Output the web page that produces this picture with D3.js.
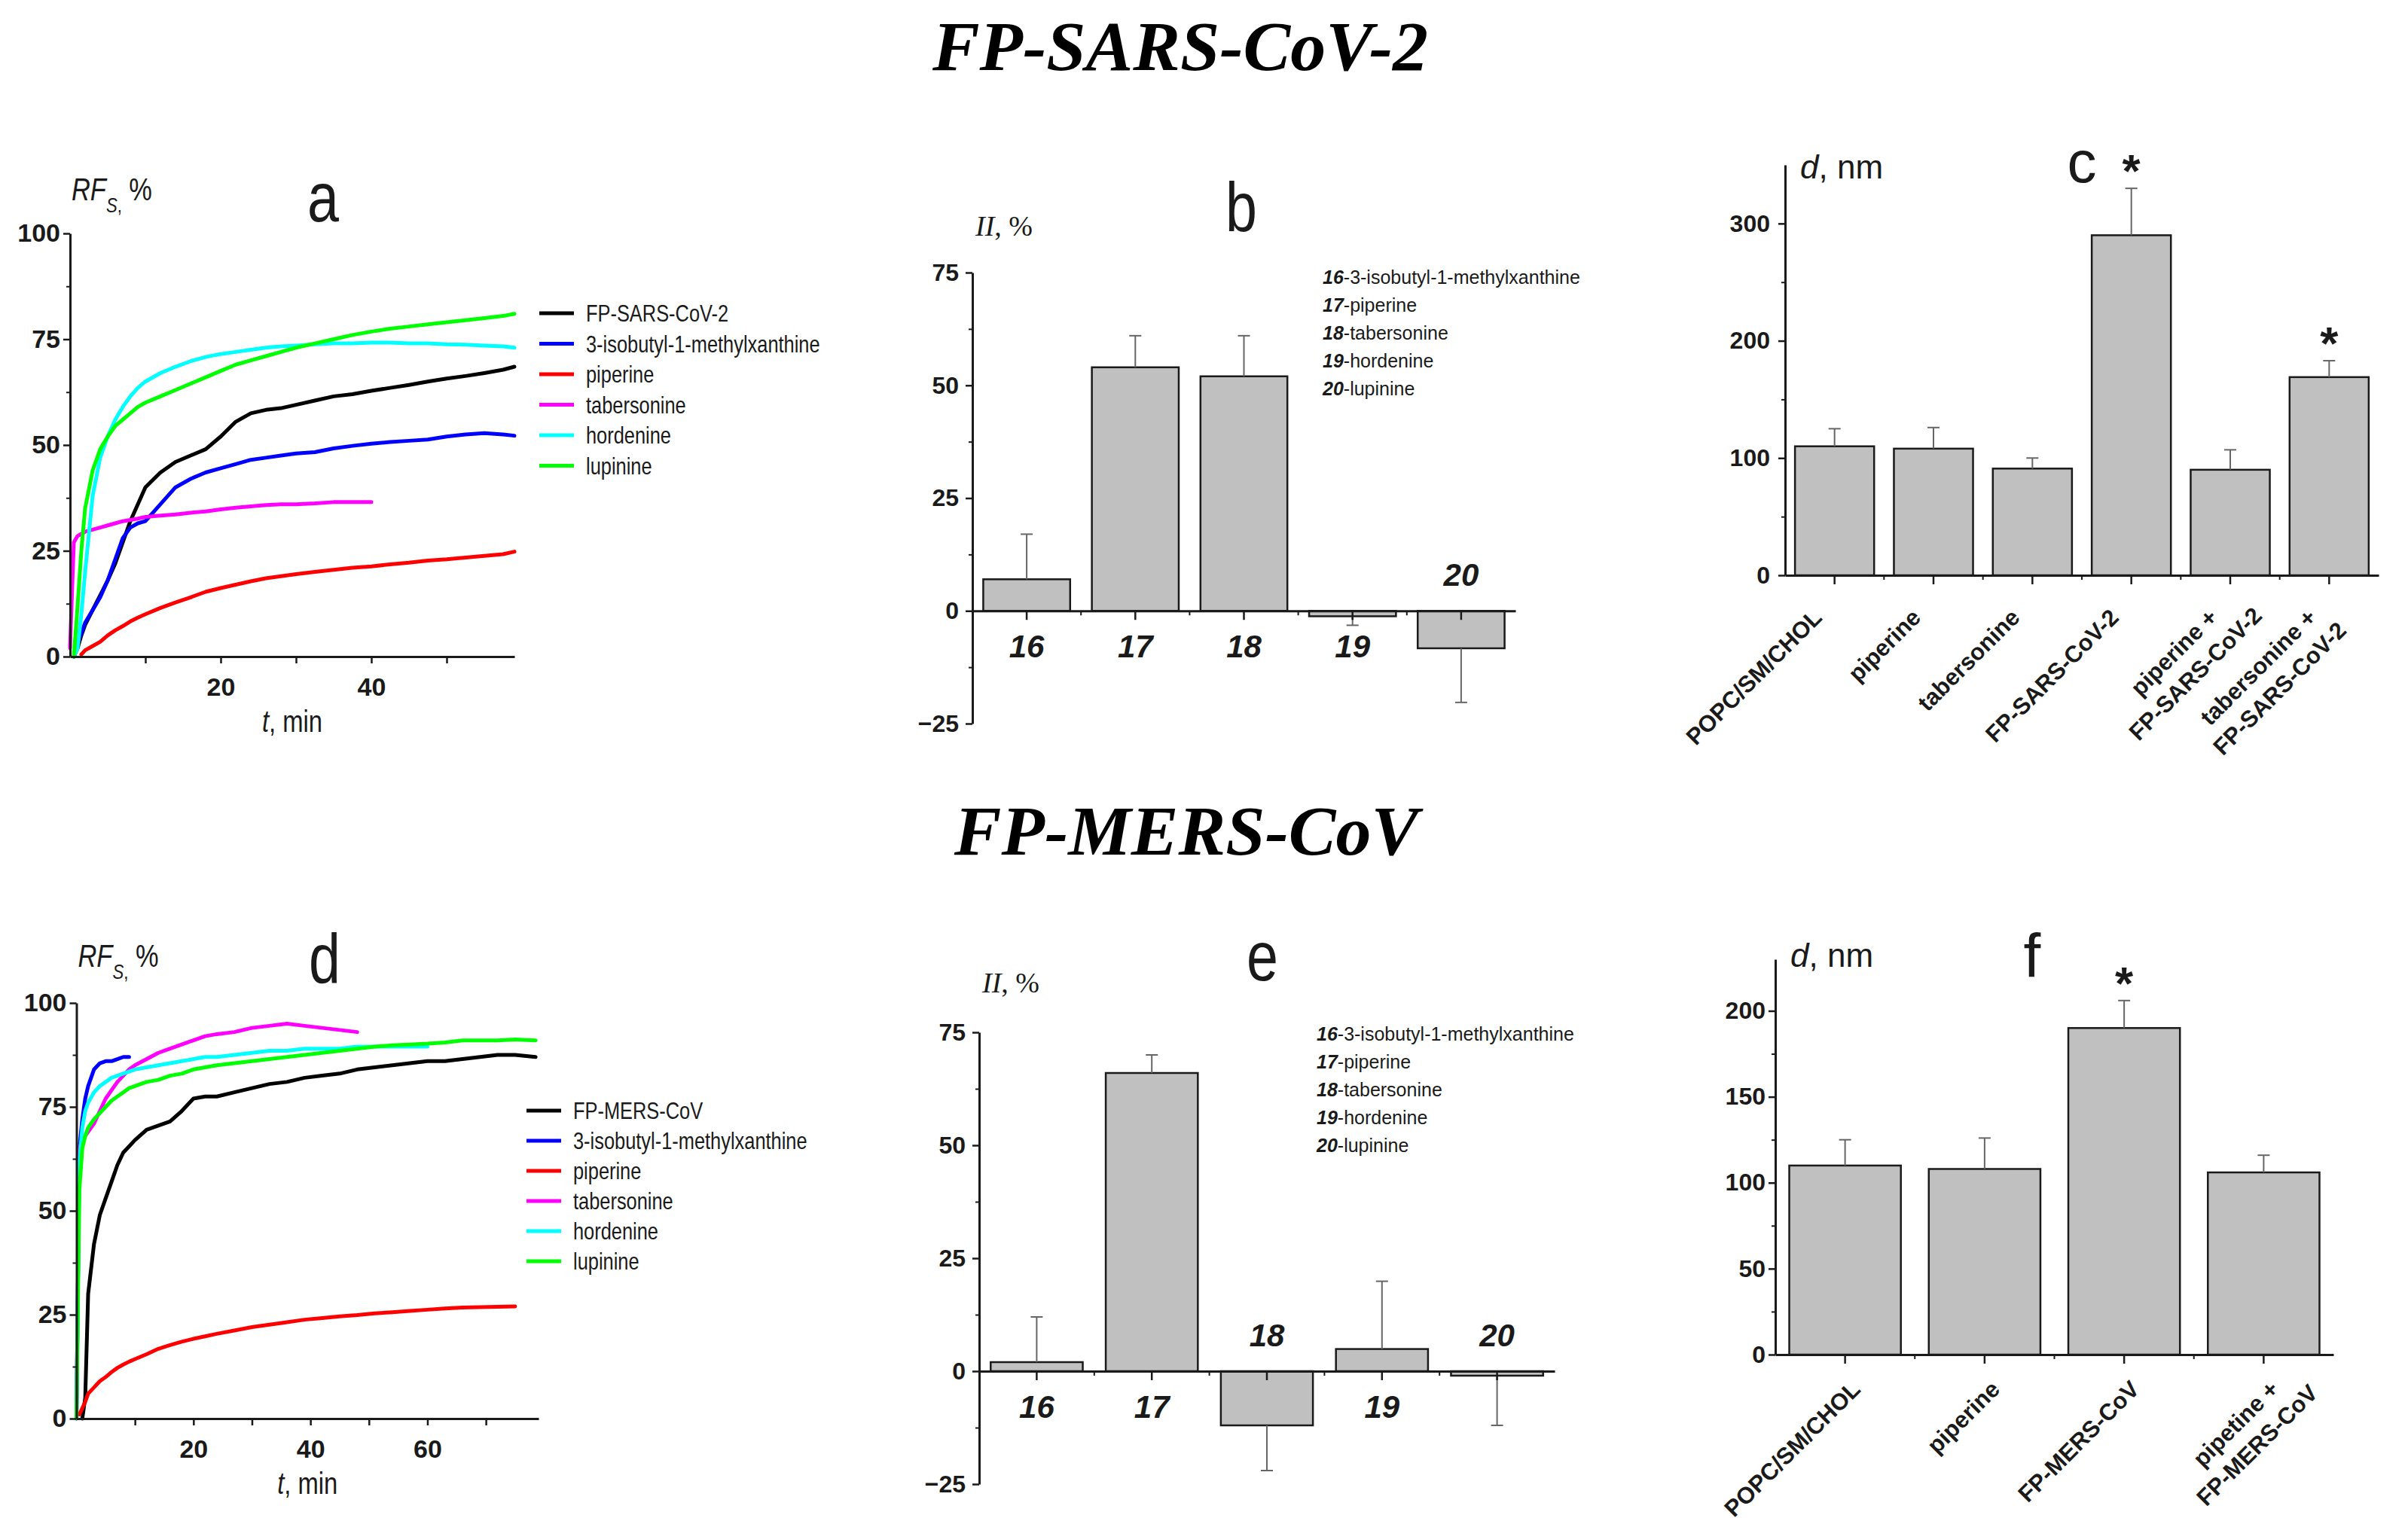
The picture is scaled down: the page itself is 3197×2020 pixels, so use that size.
<!DOCTYPE html>
<html>
<head>
<meta charset="utf-8">
<script src="https://cdn.jsdelivr.net/npm/d3@7"></script>
<style>
  body { margin: 0; background: #fff; }
  svg { display: block; }
</style>
</head>
<body>
<svg id="fig" width="3197" height="2020"></svg>
<script>
// fonts / colours
const SANS = "'Liberation Sans', Arial, Helvetica, sans-serif";
const NARROW = "'Liberation Sans Narrow', 'Arial Narrow', 'Liberation Sans', sans-serif";
const SERIF = "'Liberation Serif', 'Times New Roman', serif";
const INK = '#1a1a1a';
const BAR_FILL = '#c0c0c0';

// ---- kinetics data (panels a, d) ----
const seriesColors = ['#000000', '#0000ff', '#ff0000', '#ff00ff', '#00ffff', '#00ff00'];
const seriesNamesA = ['FP-SARS-CoV-2', '3-isobutyl-1-methylxanthine', 'piperine', 'tabersonine', 'hordenine', 'lupinine'];
const seriesNamesD = ['FP-MERS-CoV', '3-isobutyl-1-methylxanthine', 'piperine', 'tabersonine', 'hordenine', 'lupinine'];

const timeA = [0, 0.5, 1, 1.5, 2, 3, 4, 5, 6, 7, 8, 9, 10, 12, 14, 16, 18, 20, 22, 24, 26, 28, 30, 32.5, 35, 37.5, 40, 42.5, 45, 47.5, 50, 52.5, 55, 57.5, 59];
const fpSarsA = [null, 0, 2, 5, 7.5, 11, 14.5, 18, 22, 27, 32, 36, 40, 43.5, 46, 47.5, 49, 52, 55.5, 57.5, 58.3, 58.7, 59.5, 60.5, 61.5, 62, 62.8, 63.5, 64.2, 65, 65.7, 66.3, 67, 67.8, 68.5];
const ibmxA = [null, 0, 3, 5.5, 8, 11, 14, 18, 23, 28, 30.5, 31.5, 32, 36, 40, 42, 43.5, 44.5, 45.5, 46.5, 47, 47.5, 48, 48.3, 49.2, 49.8, 50.3, 50.7, 51, 51.3, 52, 52.5, 52.8, 52.5, 52.2];
const piperineA = [null, null, null, 0.5, 1.5, 2.5, 3.5, 5, 6.2, 7.2, 8.3, 9.2, 10, 11.5, 12.8, 14, 15.3, 16.2, 17, 17.8, 18.5, 19, 19.5, 20, 20.5, 21, 21.3, 21.8, 22.2, 22.7, 23, 23.4, 23.8, 24.2, 24.8];
const tabersonineA = [2, 27, 28.5, 29, 29.5, 30, 30.5, 31, 31.5, 32, 32.3, 32.6, 33, 33.3, 33.6, 34, 34.3, 34.8, 35.2, 35.5, 35.8, 36, 36, 36.2, 36.5, 36.5, 36.5];
const hordenineA = [null, 0, 2, 10, 20, 38, 47, 52, 56, 59, 61.5, 63.5, 65, 67, 68.5, 69.8, 70.8, 71.5, 72, 72.5, 73, 73.3, 73.5, 73.8, 74, 74, 74.2, 74.2, 74, 74, 73.8, 73.7, 73.5, 73.3, 73];
const lupinineA = [null, 0, 12, 25, 35, 44, 49, 52, 54.5, 56, 57.5, 59, 60, 61.5, 63, 64.5, 66, 67.5, 69, 70, 71, 72, 73, 74, 75, 76, 76.8, 77.5, 78, 78.5, 79, 79.5, 80, 80.5, 81];

const timeD = [0, 0.5, 1, 1.5, 2, 3, 4, 5, 6, 7, 8, 9, 10, 12, 14, 16, 18, 20, 22, 24, 27, 30, 33, 36, 39, 42, 45, 48, 51, 54, 57, 60, 63, 66, 69, 72, 75, 78.5];
const fpMersD = [null, null, 0, 5, 30, 42, 49, 53, 57, 61, 64, 65.5, 67, 69.5, 70.5, 71.5, 74, 77, 77.5, 77.5, 78.5, 79.5, 80.5, 81, 82, 82.5, 83, 84, 84.5, 85, 85.5, 86, 86, 86.5, 87, 87.5, 87.5, 87];
const ibmxD = [0, 65, 72, 77, 80, 84, 85.5, 86, 86, 86.5, 87, 87];
const piperineD = [null, 1, 2.5, 4, 6, 7.5, 9, 10, 11.2, 12.2, 13, 13.7, 14.3, 15.5, 16.8, 17.7, 18.5, 19.2, 19.8, 20.4, 21.2, 22, 22.6, 23.2, 23.8, 24.2, 24.6, 24.9, 25.3, 25.6, 25.9, 26.2, 26.5, 26.7, 26.8, 26.9, 27];
const tabersonineD = [0, 65, 67, 68, 69, 71, 74, 77, 79, 81, 82.5, 84, 85, 86.5, 88, 89, 90, 91, 92, 92.5, 93, 94, 94.5, 95, 94.5, 94, 93.5, 93];
const hordenineD = [0, 62, 70, 74, 76, 78.5, 80, 81, 82, 82.5, 83, 83.5, 84, 84.5, 85, 85.5, 86, 86.5, 87, 87, 87.5, 88, 88.5, 88.5, 89, 89, 89, 89.5, 89.5, 89.5, 89.5, 89.5];
const lupinineD = [0, 55, 65, 68, 70, 72, 73.5, 75, 76.5, 77.5, 78.5, 79.5, 80, 81, 81.5, 82.5, 83, 84, 84.5, 85, 85.5, 86, 86.5, 87, 87.5, 88, 88.5, 89, 89.5, 89.8, 90, 90.2, 90.5, 91, 91, 91, 91.2, 91];

const kinTicksYMajor = [0, 25, 50, 75, 100];
const kinTicksYMinor = [12.5, 37.5, 62.5, 87.5];
const kinTicksXA = [10, 20, 30, 40, 50];
const kinTicksXD = [10, 20, 30, 40, 50, 60, 70];

// ---- inhibition data (panels b, e) ----
const compoundIds = ['16', '17', '18', '19', '20'];
const compoundNames = ['3-isobutyl-1-methylxanthine', 'piperine', 'tabersonine', 'hordenine', 'lupinine'];
const inhibB = [7, 54, 52, -1.2, -8.3];
const inhibErrB = [10, 7, 9, 2, 12];
const labelSideB = ['below', 'below', 'below', 'below', 'above'];
const inhibE = [2, 66, -12, 4.9, -1];
const inhibErrE = [10, 4, 10, 15, 11];
const labelSideE = ['below', 'below', 'above', 'below', 'above'];
const inhibTicksMajor = [-25, 0, 25, 50, 75];
const inhibTicksMinor = [-12.5, 12.5, 37.5, 62.5];

// ---- vesicle size data (panels c, f) ----
const samplesC = ['POPC/SM/CHOL', 'piperine', 'tabersonine', 'FP-SARS-CoV-2', 'piperine +\nFP-SARS-CoV-2', 'tabersonine +\nFP-SARS-CoV-2'];
const sizeC = [110, 108, 91, 290, 90, 169];
const sizeErrC = [15, 18, 9, 40, 17, 14];
const starC = [false, false, false, true, false, true];
const sizeTicksMajorC = [0, 100, 200, 300];
const sizeTicksMinorC = [50, 150, 250];

const samplesF = ['POPC/SM/CHOL', 'piperine', 'FP-MERS-CoV', 'pipetine +\nFP-MERS-CoV'];
const sizeF = [110, 108, 190, 106];
const sizeErrF = [15, 18, 16, 10];
const starF = [false, false, true, false];
const sizeTicksMajorF = [0, 50, 100, 150, 200];
const sizeTicksMinorF = [25, 75, 125, 175];

const svg = d3.select('#fig');

// is the narrow face really there? otherwise squeeze the regular one
const narrowScale = (() => {
  const p = svg.append('text').attr('font-size', 100).text('mmmmmmmmmm');
  p.attr('font-family', NARROW);
  const wn = p.node().getComputedTextLength();
  p.attr('font-family', SANS);
  const ws = p.node().getComputedTextLength();
  p.remove();
  return wn < ws * 0.95 ? 1 : 0.82;
})();
const squeeze = (sel, x) => {
  if (narrowScale < 1) sel.attr('transform', `translate(${x},0) scale(${narrowScale},1) translate(${-x},0)`);
  return sel;
};

const styleAxis = (ax, fontSize, italic) => {
  ax.select('.domain').attr('stroke', INK).attr('stroke-width', 3);
  ax.selectAll('.tick line').attr('stroke', INK).attr('stroke-width', 2.5);
  ax.selectAll('.tick text')
    .attr('font-family', SANS).attr('font-size', fontSize).attr('font-weight', 'bold')
    .attr('font-style', italic ? 'italic' : 'normal').attr('fill', INK);
};

const leftAxis = (g, y, x0, major, minor, fontSize, pad) => {
  const ax = g.append('g').attr('transform', `translate(${x0},0)`)
    .call(d3.axisLeft(y).tickValues(major).tickSize(9).tickSizeOuter(0).tickPadding(pad).tickFormat(d3.format('d')));
  styleAxis(ax, fontSize);
  const mn = g.append('g').attr('transform', `translate(${x0},0)`)
    .call(d3.axisLeft(y).tickValues(minor).tickSize(5).tickFormat(''));
  mn.select('.domain').remove();
  mn.selectAll('.tick line').attr('stroke', INK).attr('stroke-width', 2);
};

// ---------- titles ----------
svg.append('text').attr('x', 1567).attr('y', 93).attr('text-anchor', 'middle')
  .attr('font-family', SERIF).attr('font-weight', 'bold').attr('font-style', 'italic').attr('font-size', 94)
  .text('FP-SARS-CoV-2');
svg.append('text').attr('x', 1575).attr('y', 1135).attr('text-anchor', 'middle')
  .attr('font-family', SERIF).attr('font-weight', 'bold').attr('font-style', 'italic').attr('font-size', 94)
  .text('FP-MERS-CoV');

// ---------- kinetics panels ----------
function drawKinetics(cfg) {
  const g = svg.append('g');
  const x = d3.scaleLinear().domain([0, cfg.tMax]).range([cfg.x0, cfg.x1]);
  const y = d3.scaleLinear().domain([0, 100]).range([cfg.y0, cfg.y1]);
  const line = d3.line().defined(d => d[1] != null).x(d => x(d[0])).y(d => y(d[1]));

  cfg.series.forEach((vals, i) => {
    const pts = cfg.time.map((t, j) => [t, vals[j]]);
    g.append('path').datum(pts).attr('d', line)
      .attr('fill', 'none').attr('stroke', seriesColors[i]).attr('stroke-width', 5)
      .attr('stroke-linejoin', 'round').attr('stroke-linecap', 'round');
  });

  leftAxis(g, y, cfg.x0, kinTicksYMajor, kinTicksYMinor, 34, 4);
  const xa = g.append('g').attr('transform', `translate(0,${cfg.y0})`)
    .call(d3.axisBottom(x).tickValues(cfg.xTicks).tickSize(9).tickSizeOuter(0).tickPadding(19)
      .tickFormat(d => d % 20 === 0 ? d : ''));
  styleAxis(xa, 34);

  // axis titles
  const yl = g.append('text').attr('x', cfg.x0 + 2).attr('y', cfg.yLabelY)
    .attr('font-family', NARROW).attr('font-size', 42).attr('fill', INK);
  yl.append('tspan').attr('font-style', 'italic').text('RF');
  yl.append('tspan').attr('font-size', 27).attr('font-style', 'italic').attr('dy', 16).text('S');
  yl.append('tspan').attr('font-size', 27).text(',');
  yl.append('tspan').attr('dy', -16).text(' %');
  squeeze(yl, cfg.x0 + 2);

  const xl = g.append('text').attr('x', (cfg.x0 + cfg.x1) / 2).attr('y', cfg.y0 + 100).attr('text-anchor', 'middle')
    .attr('font-family', NARROW).attr('font-size', 40).attr('fill', INK);
  xl.append('tspan').attr('font-style', 'italic').text('t');
  xl.append('tspan').text(', min');
  squeeze(xl, (cfg.x0 + cfg.x1) / 2);

  squeeze(g.append('text').attr('x', cfg.letterX).attr('y', cfg.letterY).attr('text-anchor', 'middle')
    .attr('font-family', NARROW).attr('font-size', 92).attr('fill', INK).text(cfg.letter), cfg.letterX);

  // legend
  cfg.names.forEach((n, i) => {
    const ly = cfg.legY + i * cfg.legDy;
    g.append('line').attr('x1', cfg.legX).attr('x2', cfg.legX + 46).attr('y1', ly).attr('y2', ly)
      .attr('stroke', seriesColors[i]).attr('stroke-width', 5);
    squeeze(g.append('text').attr('x', cfg.legX + 62).attr('y', ly).attr('dy', '0.36em')
      .attr('font-family', NARROW).attr('font-size', 31).attr('fill', INK).text(n), cfg.legX + 62);
  });
}

drawKinetics({
  time: timeA, series: [fpSarsA, ibmxA, piperineA, tabersonineA, hordenineA, lupinineA], names: seriesNamesA,
  tMax: 59, x0: 93, x1: 683, y0: 872, y1: 310, xTicks: kinTicksXA,
  yLabelY: 266, letter: 'a', letterX: 429, letterY: 294,
  legX: 716, legY: 416, legDy: 40.5
});
drawKinetics({
  time: timeD, series: [fpMersD, ibmxD, piperineD, tabersonineD, hordenineD, lupinineD], names: seriesNamesD,
  tMax: 79, x0: 101.5, x1: 715, y0: 1884, y1: 1332, xTicks: kinTicksXD,
  yLabelY: 1284, letter: 'd', letterX: 431, letterY: 1305,
  legX: 699, legY: 1475, legDy: 40
});

// ---------- shared bar helpers ----------
function barsAndErrors(g, x, y, values, errs) {
  const w = x.bandwidth();
  values.forEach((v, i) => {
    const c = x.domain()[i];
    g.append('rect').attr('x', x(c)).attr('width', w)
      .attr('y', y(Math.max(v, 0))).attr('height', Math.abs(y(v) - y(0)))
      .attr('fill', BAR_FILL).attr('stroke', INK).attr('stroke-width', 2.5);
  });
  values.forEach((v, i) => {
    const c = x.domain()[i];
    const cx = x(c) + w / 2;
    const end = v + (v >= 0 ? errs[i] : -errs[i]);
    g.append('line').attr('x1', cx).attr('x2', cx).attr('y1', y(v)).attr('y2', y(end))
      .attr('stroke', '#666').attr('stroke-width', 2);
    g.append('line').attr('x1', cx - 8).attr('x2', cx + 8).attr('y1', y(end)).attr('y2', y(end))
      .attr('stroke', '#666').attr('stroke-width', 2);
  });
}

function bottomBandAxis(g, x, y) {
  const xa = g.append('g').attr('transform', `translate(0,${y(0)})`)
    .call(d3.axisBottom(x).tickSize(12).tickSizeOuter(0).tickFormat(''));
  styleAxis(xa, 30);
  const step = x.step(), w = x.bandwidth();
  x.domain().slice(0, -1).forEach(c => {
    const bx = x(c) + w + (step - w) / 2;
    g.append('line').attr('x1', bx).attr('x2', bx).attr('y1', y(0)).attr('y2', y(0) + 6)
      .attr('stroke', INK).attr('stroke-width', 2);
  });
}

// ---------- inhibition panels ----------
function drawInhibition(cfg) {
  const g = svg.append('g');
  const x = d3.scaleBand().domain(compoundIds).range([cfg.x0, cfg.x1]).paddingInner(0.2).paddingOuter(0.1);
  const y = d3.scaleLinear().domain([-25, 75]).range([cfg.yBottom, cfg.yTop]);

  barsAndErrors(g, x, y, cfg.values, cfg.errs);
  leftAxis(g, y, cfg.x0, inhibTicksMajor, inhibTicksMinor, 32, 9);
  bottomBandAxis(g, x, y);

  compoundIds.forEach((id, i) => {
    const cx = x(id) + x.bandwidth() / 2;
    g.append('text').attr('x', cx).attr('y', y(0) + (cfg.sides[i] === 'below' ? 62 : -33))
      .attr('text-anchor', 'middle').attr('font-family', SANS).attr('font-weight', 'bold')
      .attr('font-style', 'italic').attr('font-size', 42).attr('fill', INK).text(id);
  });

  const yl = g.append('text').attr('x', cfg.x0 + 4).attr('y', cfg.yLabelY)
    .attr('font-family', SERIF).attr('font-size', 38).attr('fill', INK);
  yl.append('tspan').attr('font-style', 'italic').text('II');
  yl.append('tspan').text(', %');

  squeeze(g.append('text').attr('x', cfg.letterX).attr('y', cfg.letterY).attr('text-anchor', 'middle')
    .attr('font-family', NARROW).attr('font-size', 92).attr('fill', INK).text(cfg.letter), cfg.letterX);

  compoundIds.forEach((id, i) => {
    const t = g.append('text').attr('x', cfg.legX).attr('y', cfg.legY + i * cfg.legDy).attr('dy', '0.36em')
      .attr('font-family', SANS).attr('font-size', 25).attr('fill', INK);
    t.append('tspan').attr('font-weight', 'bold').attr('font-style', 'italic').text(id);
    t.append('tspan').text('-' + compoundNames[i]);
  });
}

drawInhibition({
  values: inhibB, errs: inhibErrB, sides: labelSideB,
  x0: 1291, x1: 2012, yBottom: 961, yTop: 362,
  yLabelY: 313, letter: 'b', letterX: 1648, letterY: 307,
  legX: 1756, legY: 368, legDy: 37
});
drawInhibition({
  values: inhibE, errs: inhibErrE, sides: labelSideE,
  x0: 1300, x1: 2064, yBottom: 1971, yTop: 1371,
  yLabelY: 1318, letter: 'e', letterX: 1676, letterY: 1302,
  legX: 1748, legY: 1373, legDy: 37
});

// ---------- vesicle size panels ----------
function drawSizes(cfg) {
  const g = svg.append('g');
  const x = d3.scaleBand().domain(cfg.samples).range([cfg.x0, cfg.x1]).paddingInner(0.2).paddingOuter(0.1);
  const y = d3.scaleLinear().domain([0, cfg.yMax]).range([cfg.yBottom, cfg.yTop]);

  barsAndErrors(g, x, y, cfg.values, cfg.errs);
  leftAxis(g, y, cfg.x0, cfg.major, cfg.minor, 32, cfg.pad);
  bottomBandAxis(g, x, y);

  cfg.samples.forEach((s, i) => {
    const cx = x(s) + x.bandwidth() / 2;
    const lab = g.append('g').attr('transform', `translate(${cx + cfg.labDx},${y(0) + cfg.labDy}) rotate(-45)`);
    const lines = s.split('\n');
    const first = lab.append('text').attr('text-anchor', 'end')
      .attr('font-family', SANS).attr('font-weight', 'bold').attr('font-size', 31).attr('fill', INK).text(lines[0]);
    const w1 = first.node().getComputedTextLength();
    lines.slice(1).forEach((ln, k) => {
      lab.append('text').attr('x', -w1 / 2).attr('y', (k + 1) * 40).attr('text-anchor', 'middle')
        .attr('font-family', SANS).attr('font-weight', 'bold').attr('font-size', 31).attr('fill', INK).text(ln);
    });
    if (cfg.stars[i]) {
      g.append('text').attr('x', cx).attr('y', y(cfg.values[i] + cfg.errs[i]) - 2).attr('text-anchor', 'middle')
        .attr('font-family', SANS).attr('font-weight', 'bold').attr('font-size', 62).attr('fill', INK).text('*');
    }
  });

  const yl = g.append('text').attr('x', cfg.x0 + 20).attr('y', cfg.yLabelY)
    .attr('font-family', SANS).attr('font-size', 44).attr('fill', INK);
  yl.append('tspan').attr('font-style', 'italic').text('d');
  yl.append('tspan').text(', nm');

  g.append('text').attr('x', cfg.letterX).attr('y', cfg.letterY).attr('text-anchor', 'middle')
    .attr('font-family', SANS).attr('font-size', cfg.letterSize).attr('fill', INK).text(cfg.letter);
}

drawSizes({
  samples: samplesC, values: sizeC, errs: sizeErrC, stars: starC,
  major: sizeTicksMajorC, minor: sizeTicksMinorC, yMax: 350,
  x0: 2370, x1: 3158, yBottom: 764, yTop: 219, pad: 11,
  labDx: -15, labDy: 58,
  yLabelY: 237, letter: 'c', letterX: 2764, letterY: 242, letterSize: 78
});
drawSizes({
  samples: samplesF, values: sizeF, errs: sizeErrF, stars: starF,
  major: sizeTicksMajorF, minor: sizeTicksMinorF, yMax: 230,
  x0: 2357, x1: 3098, yBottom: 1799, yTop: 1274, pad: 4,
  labDx: 22, labDy: 48,
  yLabelY: 1284, letter: 'f', letterX: 2698, letterY: 1297, letterSize: 82
});
</script>
</body>
</html>
